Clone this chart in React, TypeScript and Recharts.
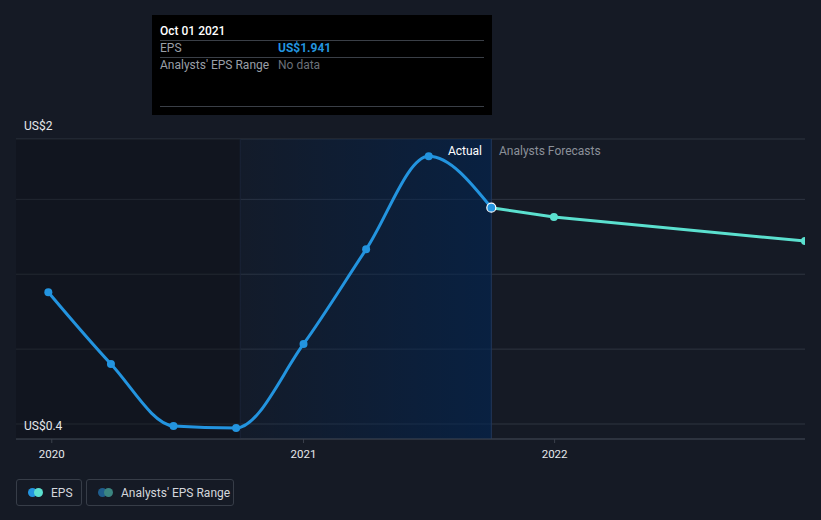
import React from 'react';
import { LineChart, Line, XAxis, YAxis, CartesianGrid, ReferenceArea, ReferenceLine } from 'recharts';

const dates = ['2019-12-27', '2020-03-27', '2020-06-26', '2020-09-25', '2021-01-01', '2021-04-02', '2021-07-02', '2021-10-01', '2021-12-31', '2022-12-31'];
const actualEps = [1.338, 0.827, 0.386, 0.372, 0.97, 1.644, 2.307, 1.941, null, null];
const forecastEps = [null, null, null, null, null, null, null, 1.941, 1.874, 1.703];
const xTickDates = ['2020-01-01', '2021-01-01', '2022-01-01'];
const xTickLabels = ['2020', '2021', '2022'];
const yTicks = [0.4, 0.9333, 1.4667, 2.0, 2.43];
const yTickLabels = ['US$0.4', '', '', '', 'US$2'];

const t = (s: string) => Date.parse(s + 'T00:00:00Z');
const X_MIN = t('2019-11-10');
const X_MAX = t('2022-12-31');
const PAST_START = t('2020-10-01');
const NOW = t('2021-10-01');

const data = dates.map((d, i) => ({ x: t(d), eps: actualEps[i], forecast: forecastEps[i] }));
const xTicks = xTickDates.map(t);

const BG = '#151a25';
const BLUE = '#2394df';
const TEAL = '#5be0cf';
const FONT = 'Roboto, "Noto Sans", sans-serif';

const YTick = (props: any) => {
  const { y, payload } = props;
  const i = yTicks.findIndex((v) => Math.abs(v - payload.value) < 1e-6);
  const label = i >= 0 ? yTickLabels[i] : '';
  if (!label) return <g />;
  const isTop = i === yTicks.length - 1;
  return (
    <text x={24} y={isTop ? y - 12 : y + 3} fill="#e6e8eb" fontSize={12} fontFamily={FONT} dominantBaseline="middle" textAnchor="start">
      {label}
    </text>
  );
};

const XTick = (props: any) => {
  const { x, y, payload } = props;
  const i = xTicks.findIndex((v) => v === payload.value);
  return (
    <text x={x} y={y + 10} fill="#e6e8eb" fontSize={11.5} fontFamily={FONT} textAnchor="middle" dominantBaseline="middle">
      {i >= 0 ? xTickLabels[i] : ''}
    </text>
  );
};

const actualDot = (props: any) => {
  const { cx, cy, index } = props;
  if (cy == null || cx == null || actualEps[index] == null) return <g key={'a' + index} />;
  if (index === 7) {
    return <circle key={'a' + index} cx={cx} cy={cy} r={4.5} fill={BLUE} stroke="#ffffff" strokeWidth={1.2} />;
  }
  return <circle key={'a' + index} cx={cx} cy={cy} r={4} fill={BLUE} stroke="none" />;
};

const forecastDot = (props: any) => {
  const { cx, cy, index } = props;
  if (cy == null || cx == null || forecastEps[index] == null || index === 7) return <g key={'f' + index} />;
  return <circle key={'f' + index} cx={cx} cy={cy} r={4} fill={TEAL} stroke="none" />;
};

const LegendItem = ({ left, width, c1, c2, label }: any) => (
  <div
    style={{
      position: 'absolute', left, top: 479, width, height: 27, boxSizing: 'border-box',
      border: '1px solid #373d48', borderRadius: 3, display: 'flex', alignItems: 'center',
      fontFamily: FONT, fontSize: 12, color: '#d4d7dc',
    }}
  >
    <div style={{ position: 'relative', width: 16, height: 9, marginLeft: 11, marginRight: 7 }}>
      <div style={{ position: 'absolute', left: 0, top: 0, width: 9, height: 9, borderRadius: 5, background: c1 }} />
      <div style={{ position: 'absolute', left: 6, top: 0, width: 9, height: 9, borderRadius: 5, background: c2 }} />
    </div>
    <span>{label}</span>
  </div>
);

export default function App() {
  return (
    <div style={{ position: 'fixed', left: 0, top: 0, width: 821, height: 520, background: BG, overflow: 'hidden' }}>
      <LineChart width={821} height={520} data={data} margin={{ top: 139, right: 16, bottom: 51, left: 15 }}>
        <defs>
          <linearGradient id="pastGrad" x1="0" y1="0" x2="1" y2="0">
            <stop offset="0%" stopColor="#002554" stopOpacity={0.1} />
            <stop offset="100%" stopColor="#002554" stopOpacity={0.6} />
          </linearGradient>
        </defs>
        <ReferenceArea x1={X_MIN} x2={PAST_START} fill="#0b0e14" fillOpacity={0.35} stroke="none" ifOverflow="hidden" />
        <ReferenceArea x1={PAST_START} x2={NOW} fill="url(#pastGrad)" fillOpacity={1} stroke="none" ifOverflow="hidden" />
        <CartesianGrid vertical={false} stroke="#2f3541" strokeWidth={1} />
        <ReferenceLine x={PAST_START} stroke="#1a2438" strokeWidth={1} />
        <ReferenceLine x={NOW} stroke="#22375a" strokeWidth={1} />
        <XAxis
          dataKey="x"
          type="number"
          scale="time"
          domain={[X_MIN, X_MAX]}
          ticks={xTicks}
          interval={0}
          allowDataOverflow
          height={30}
          axisLine={{ stroke: '#3b414c' }}
          tickLine={{ stroke: '#3b414c' }}
          tickSize={4}
          tick={<XTick />}
        />
        <YAxis
          type="number"
          domain={[0.2932, 2.43]}
          ticks={yTicks}
          interval={0}
          allowDataOverflow
          width={1}
          axisLine={false}
          tickLine={false}
          tick={<YTick />}
        />
        <Line dataKey="forecast" type="linear" stroke={TEAL} strokeWidth={3} dot={forecastDot} activeDot={false} isAnimationActive={false} connectNulls={false} />
        <Line dataKey="eps" type="monotone" stroke={BLUE} strokeWidth={3} dot={actualDot} activeDot={false} isAnimationActive={false} connectNulls={false} />
      </LineChart>

      <div style={{ position: 'absolute', left: 380, top: 144, width: 102, textAlign: 'right', fontFamily: FONT, fontSize: 12, color: '#ffffff' }}>Actual</div>
      <div style={{ position: 'absolute', left: 499, top: 144, fontFamily: FONT, fontSize: 12, color: '#8b9099' }}>Analysts Forecasts</div>

      <div style={{ position: 'absolute', left: 152, top: 15, width: 340, height: 100, background: '#000000', fontFamily: FONT, fontSize: 12 }}>
        <div style={{ position: 'absolute', left: 8, top: 9, color: '#ffffff', fontWeight: 500 }}>Oct 01 2021</div>
        <div style={{ position: 'absolute', left: 8, top: 25, width: 324, height: 1, background: '#3a3f47' }} />
        <div style={{ position: 'absolute', left: 8, top: 26, color: '#9a9fa7' }}>EPS</div>
        <div style={{ position: 'absolute', left: 126, top: 26, color: BLUE, fontWeight: 700 }}>US$1.941</div>
        <div style={{ position: 'absolute', left: 8, top: 42, width: 324, height: 1, background: '#3a3f47' }} />
        <div style={{ position: 'absolute', left: 8, top: 43, color: '#9a9fa7' }}>Analysts' EPS Range</div>
        <div style={{ position: 'absolute', left: 126, top: 43, color: '#6b7079' }}>No data</div>
        <div style={{ position: 'absolute', left: 8, top: 91, width: 324, height: 1, background: '#3a3f47' }} />
      </div>

      <LegendItem left={16} width={66} c1={BLUE} c2={TEAL} label="EPS" />
      <LegendItem left={86} width={148} c1="#1f5d8c" c2="#3b8580" label="Analysts' EPS Range" />
    </div>
  );
}
